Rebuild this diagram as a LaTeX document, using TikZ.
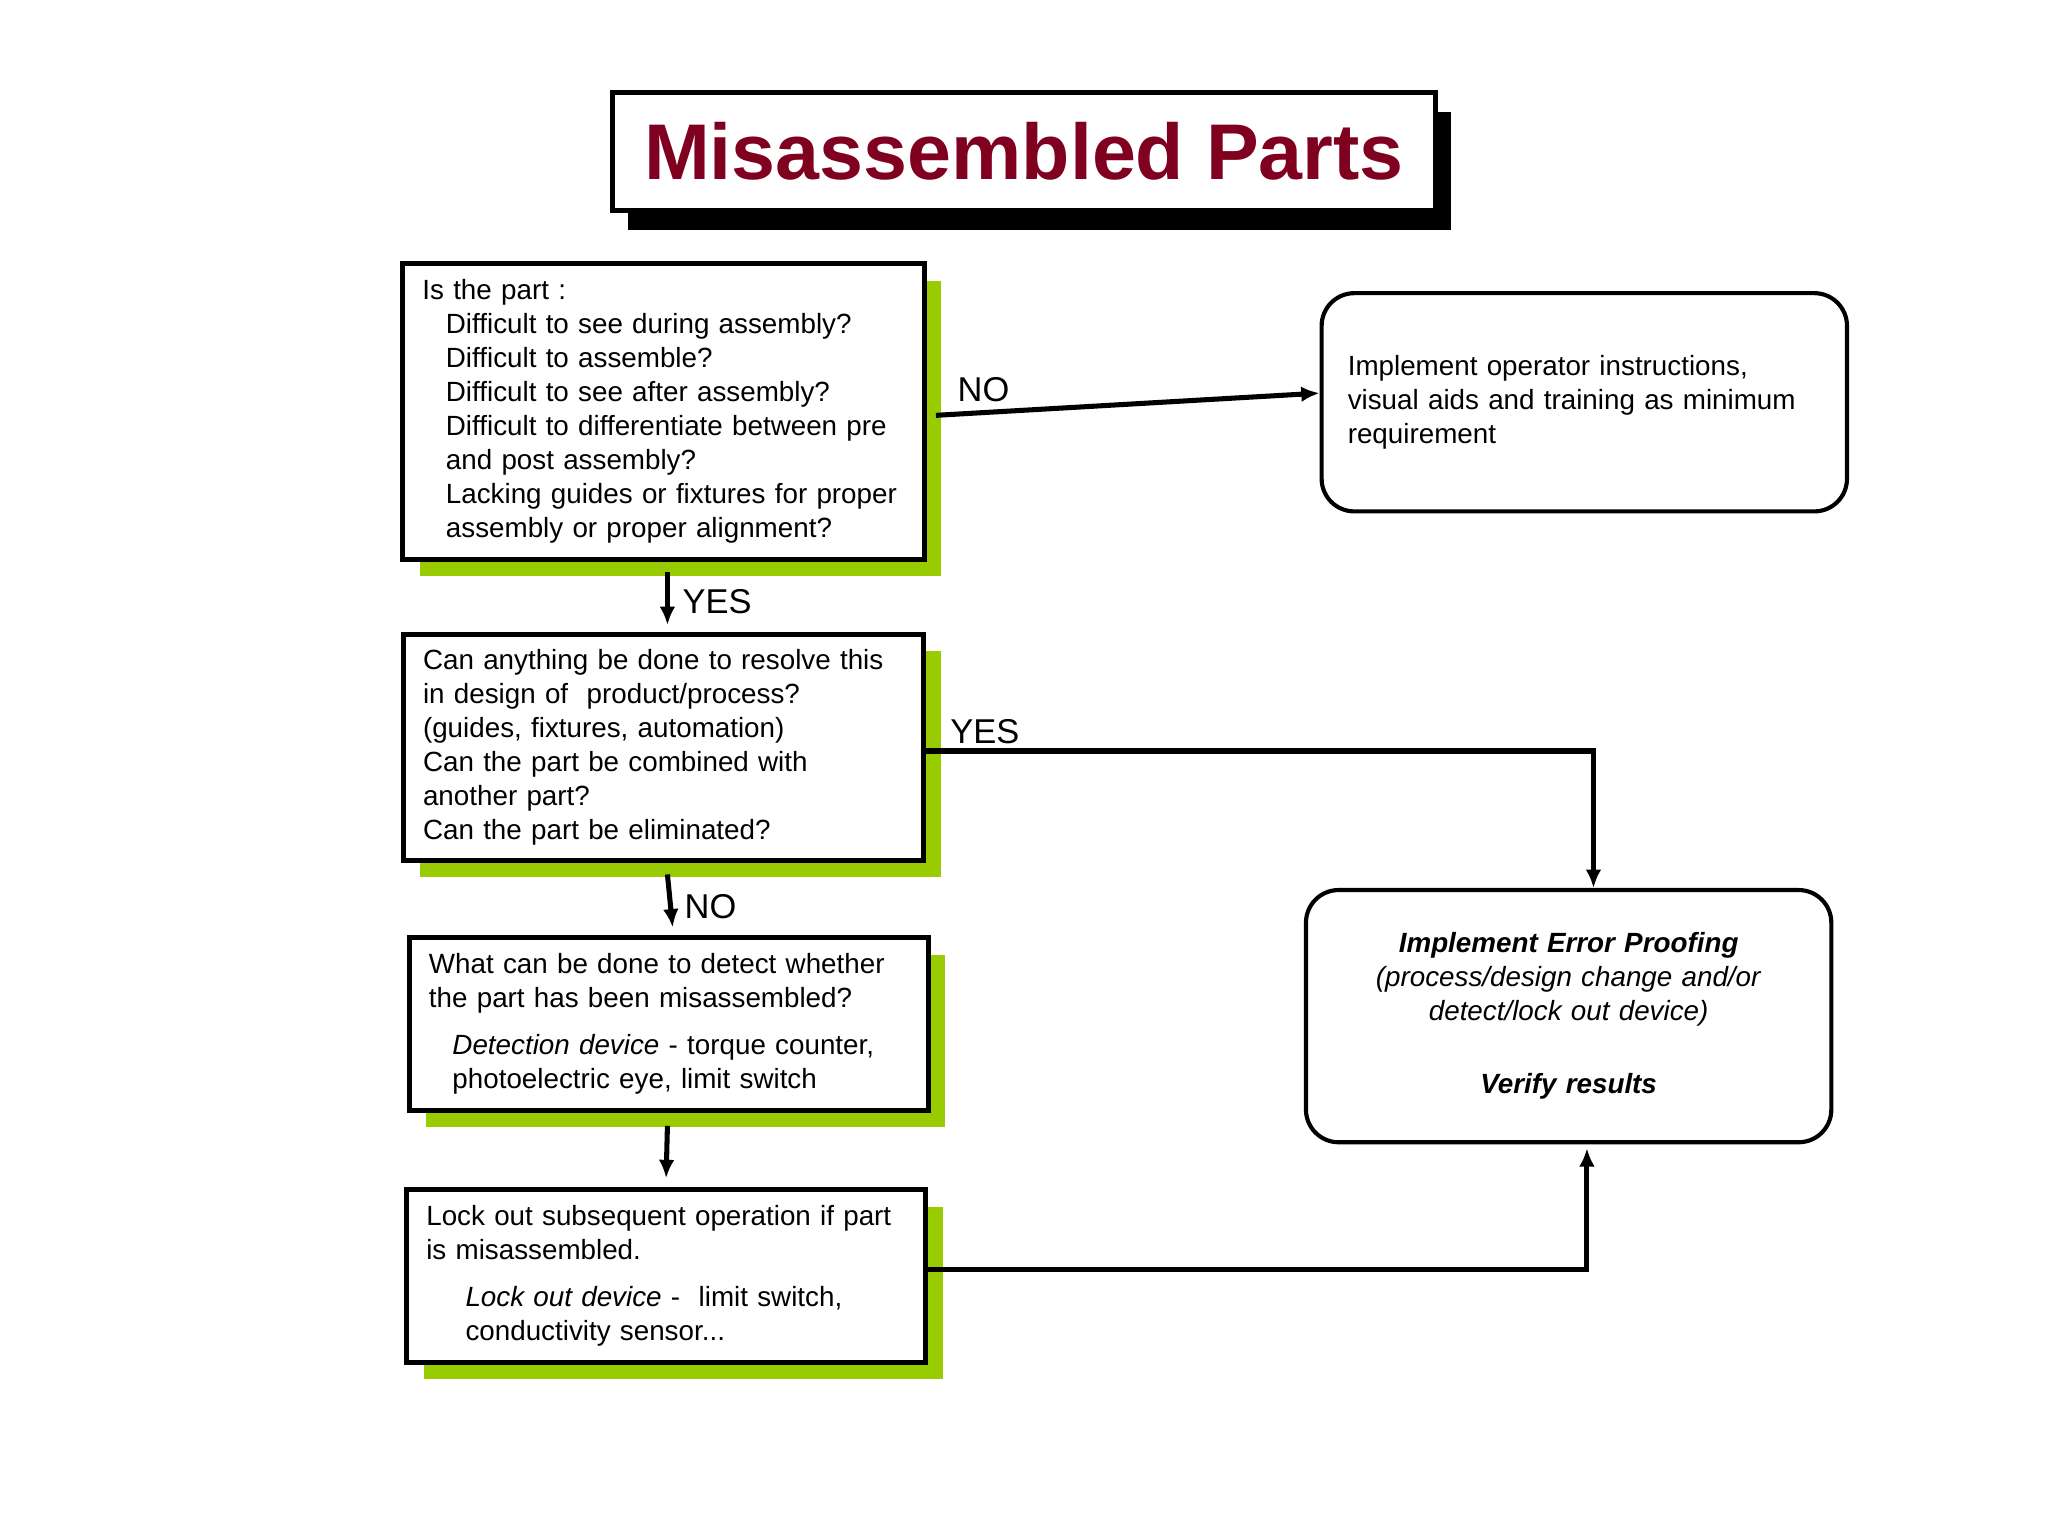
\documentclass[tikz,border=0pt]{standalone}
\usepackage{fontspec}
\setmainfont{Liberation Sans}
\usetikzlibrary{shadows,arrows.meta}
\definecolor{limegreen}{RGB}{153,204,0}
\definecolor{titlered}{RGB}{128,0,32}
\tikzset{
  question/.style={draw, fill=white, line width=1.1pt, inner xsep=0.15cm, inner ysep=0.06cm,
    align=left, font=\fontsize{6.05}{7.4}\selectfont,
    general shadow={fill=limegreen, shadow xshift=0.13cm, shadow yshift=-0.13cm}},
  result/.style={draw, fill=white, line width=0.9pt, rounded corners=0.25cm,
    inner sep=0.2cm, font=\fontsize{6.05}{7.4}\selectfont},
  flow/.style={line width=1.1pt, -{Latex[length=0.14cm,width=0.12cm]}},
  tag/.style={font=\fontsize{7.5}{9}\selectfont}
}
\begin{document}
\begin{tikzpicture}[x=0.01cm,y=-0.01cm]
\useasboundingbox (0,0) rectangle (1568,1176);

% title
\node[draw, fill=white, line width=1.1pt, minimum width=6.3cm, minimum height=0.9cm,
  general shadow={fill=black, shadow xshift=0.12cm, shadow yshift=-0.15cm},
  text=titlered, font=\fontsize{17.2}{20}\selectfont\bfseries] (title) at (784,116) {Misassembled Parts};

% left column
\node[question, minimum width=3.99cm, minimum height=2.26cm, text width=3.69cm] (q1) at (508,315)
  {Is the part :\\
   \hspace*{0.18cm}Difficult to see during assembly?\\
   \hspace*{0.18cm}Difficult to assemble?\\
   \hspace*{0.18cm}Difficult to see after assembly?\\
   \hspace*{0.18cm}Difficult to differentiate between pre\\
   \hspace*{0.18cm}and post assembly?\\
   \hspace*{0.18cm}Lacking guides or fixtures for proper\\
   \hspace*{0.18cm}assembly or proper alignment?};
\node[question, minimum width=3.98cm, minimum height=1.73cm, text width=3.68cm] (q2) at (508,572)
  {Can anything be done to resolve this\\
   in design of\ \ product/process?\\
   (guides, fixtures, automation)\\
   Can the part be combined with\\
   another part?\\
   Can the part be eliminated?};
\node[question, minimum width=3.97cm, minimum height=1.32cm, text width=3.67cm] (q3) at (512,784)
  {What can be done to detect whether\\
   the part has been misassembled?\\[0.1cm]
   \hspace*{0.18cm}\textit{Detection device} - torque counter,\\
   \hspace*{0.18cm}photoelectric eye, limit switch};
\node[question, minimum width=3.97cm, minimum height=1.32cm, text width=3.67cm] (q4) at (510,977)
  {Lock out subsequent operation if part\\
   is misassembled.\\[0.1cm]
   \hspace*{0.3cm}\textit{Lock out device} -\ \ limit switch,\\
   \hspace*{0.3cm}conductivity sensor...};

% right column
\node[result, minimum width=4.02cm, minimum height=1.67cm, text width=3.62cm, align=left] (r1) at (1213,308)
  {Implement operator instructions,\\
   visual aids and training as minimum\\
   requirement};
\node[result, minimum width=4.02cm, minimum height=1.93cm, text width=3.62cm, align=center] (r2) at (1201,778)
  {\textbf{\textit{Implement Error Proofing}}\\
   \textit{(process/design change and/or}\\
   \textit{detect/lock out device)}\\[0.3cm]
   \textbf{\textit{Verify results}}};

% connectors
\draw[flow] ([xshift=0.07cm,yshift=-0.03cm]q1.east) -- ([yshift=0.07cm]r1.west);
\node[tag] (no1) at (753,298) {NO};
\draw[flow] ([xshift=0.03cm,yshift=-0.08cm]q1.south) -- ([xshift=0.03cm,yshift=0.05cm]q2.north);
\node[tag] (yes1) at (549,461) {YES};
\draw[flow] ([xshift=0.03cm,yshift=-0.09cm]q2.south) -- ([xshift=0.03cm,yshift=0.06cm]q3.north);
\node[tag] (no2) at (544,694) {NO};
\draw[flow] ([xshift=-0.01cm,yshift=-0.1cm]q3.south) -- ([yshift=0.07cm]q4.north);
\draw[flow] ([yshift=-0.03cm]q2.east) -| ([xshift=0.19cm]r2.north);
\node[tag] (yes2) at (754,560) {YES};
\draw[flow] ([yshift=0.05cm]q4.east) -| ([xshift=0.14cm,yshift=-0.03cm]r2.south);
\end{tikzpicture}
\end{document}
